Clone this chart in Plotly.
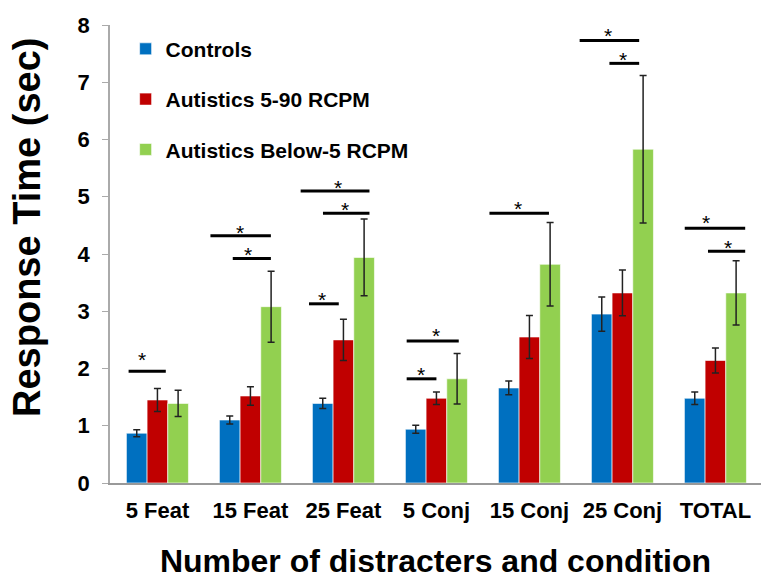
import plotly.graph_objects as go

categories = ["5 Feat", "15 Feat", "25 Feat", "5 Conj", "15 Conj", "25 Conj", "TOTAL"]

controls = [0.87, 1.10, 1.39, 0.94, 1.66, 2.95, 1.48]
controls_err = [0.06, 0.07, 0.09, 0.07, 0.12, 0.30, 0.11]

aut_5_90 = [1.45, 1.52, 2.50, 1.48, 2.55, 3.32, 2.14]
aut_5_90_err = [0.20, 0.16, 0.36, 0.11, 0.375, 0.40, 0.22]

aut_below5 = [1.39, 3.08, 3.94, 1.82, 3.82, 5.83, 3.32]
aut_below5_err = [0.23, 0.62, 0.67, 0.44, 0.73, 1.29, 0.56]

series_names = ["Controls", "Autistics 5-90 RCPM", "Autistics Below-5 RCPM"]
series_colors = ["#0070C0", "#C00000", "#92D050"]

# significance brackets: (category index, left offset, right offset, line level, star offset x, star level)
brackets = [
    (0, -0.31, 0.09, 1.95, -0.17, 2.25),
    (1, -0.43, 0.22, 4.32, -0.11, 4.47),
    (1, -0.19, 0.22, 3.92, -0.03, 4.07),
    (2, -0.46, 0.28, 5.10, -0.06, 5.25),
    (2, -0.22, 0.28, 4.71, 0.02, 4.87),
    (2, -0.37, -0.05, 3.13, -0.23, 3.30),
    (3, -0.32, 0.24, 2.48, -0.01, 2.66),
    (3, -0.32, 0.00, 1.82, -0.17, 1.99),
    (4, -0.43, 0.21, 4.71, -0.12, 4.89),
    (5, -0.46, 0.18, 7.73, -0.15, 7.90),
    (5, -0.14, 0.18, 7.33, 0.01, 7.49),
    (6, -0.33, 0.32, 4.45, -0.10, 4.63),
    (6, -0.08, 0.32, 4.05, 0.14, 4.20),
]

FONT = "Liberation Sans, Arial, sans-serif"
xs = list(range(len(categories)))

fig = go.Figure()
for name, vals, errs, col in zip(series_names,
                                 [controls, aut_5_90, aut_below5],
                                 [controls_err, aut_5_90_err, aut_below5_err],
                                 series_colors):
    fig.add_trace(go.Bar(
        x=xs, y=vals, name=name, legendgroup=name,
        marker=dict(color=col, line=dict(color="rgba(255,255,255,0.6)", width=1)),
        error_y=dict(type="data", array=errs, visible=True,
                     color="#222222", thickness=1.5, width=3.5),
    ))

for ci, lo, hi, lvl, sx, sy in brackets:
    fig.add_shape(type="line", xref="x", yref="y",
                  x0=ci + lo, x1=ci + hi, y0=lvl, y1=lvl,
                  line=dict(color="black", width=3))
    fig.add_annotation(x=ci + sx, y=sy, xref="x", yref="y", text="*",
                       showarrow=False, yshift=-5,
                       font=dict(family=FONT, size=21, color="black"))

# y-axis title (placed as rotated text, off-centre like the reference)
fig.add_annotation(text="Response Time (sec)", xref="paper", yref="paper",
                   x=-0.1275, y=0.559, xanchor="center", yanchor="middle",
                   textangle=-90, showarrow=False,
                   font=dict(family=FONT, size=38, color="black", weight="bold"))

fig.update_layout(
    width=761, height=579,
    margin=dict(l=110, r=0, t=25, b=96, autoexpand=False),
    paper_bgcolor="white", plot_bgcolor="white",
    barmode="group", bargap=0.333, bargroupgap=0,
    showlegend=True,
    legend=dict(x=0.024, y=0.992, xanchor="left", yanchor="top",
                bgcolor="rgba(0,0,0,0)", traceorder="grouped", tracegroupgap=20,
                font=dict(family=FONT, size=21, color="black", weight="bold")),
    xaxis=dict(range=[-0.51, 6.49], tickmode="array", tickvals=xs, ticktext=categories,
               showline=True, linecolor="#999999", linewidth=1.5, ticks="",
               showgrid=False, zeroline=False, ticklabelstandoff=7, automargin=False,
               tickfont=dict(family=FONT, size=22, color="black", weight="bold"),
               title=dict(text="Number of distracters and condition", standoff=40,
                          font=dict(family=FONT, size=32, color="black", weight="bold"))),
    yaxis=dict(range=[0, 8], dtick=1, showline=True, linecolor="#AAAAAA", linewidth=1.5,
               ticks="outside", ticklen=6, tickcolor="#AAAAAA", showgrid=False,
               zeroline=False, ticklabelstandoff=8, automargin=False,
               tickfont=dict(family=FONT, size=22, color="black", weight="bold")),
)

fig.write_html("out.html", config={"displayModeBar": False},
               post_script="document.body.style.margin='0';")
